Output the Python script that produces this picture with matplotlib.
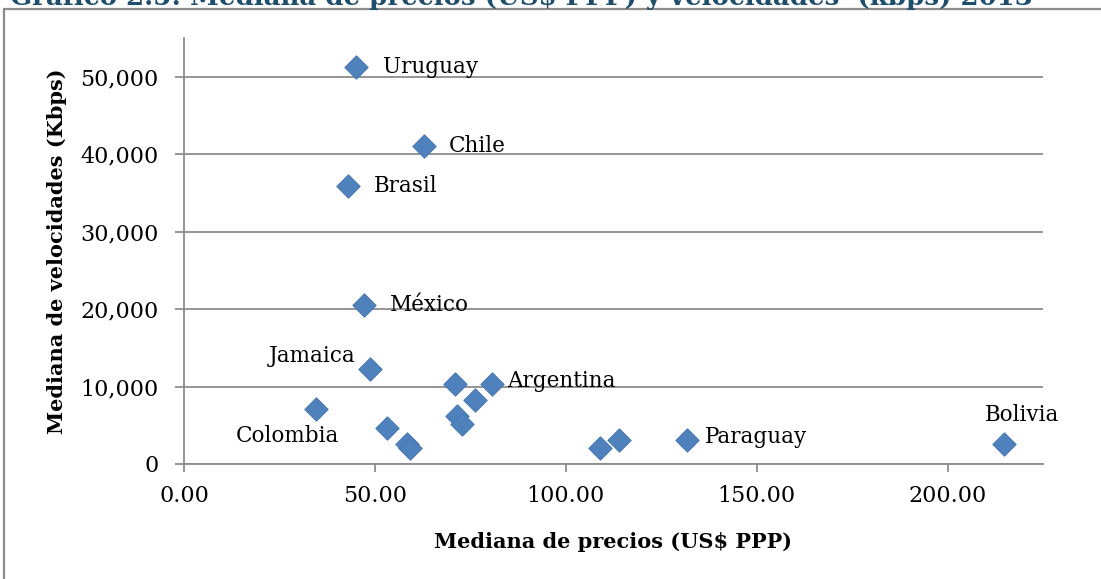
import matplotlib
matplotlib.use("Agg")
import matplotlib.pyplot as plt
from matplotlib.patches import Rectangle
from matplotlib.ticker import FuncFormatter, MultipleLocator

# Data
precios = [45.0, 62.8, 42.9, 47.1, 48.7, 34.7, 70.9, 80.7, 76.2, 71.4, 72.7,
           53.2, 58.3, 59.2, 108.9, 114.0, 131.8, 214.7]
velocidades = [51200, 41000, 35900, 20500, 12300, 7100, 10300, 10300, 8200,
               6200, 5100, 4700, 2600, 2050, 2050, 3100, 3100, 2600]
etiquetas = ["Uruguay", "Chile", "Brasil", "México", "Jamaica", "Colombia", "",
             "Argentina", "", "", "", "", "", "", "", "", "Paraguay", "Bolivia"]

titulo = "Gráfico 2.5: Mediana de precios (US$ PPP) y velocidades  (kbps) 2013"
xlabel = "Mediana de precios (US$ PPP)"
ylabel = "Mediana de velocidades (Kbps)"

serif = ["DejaVu Serif"]
W, H = 1101, 579
fig = plt.figure(figsize=(W / 100, H / 100), dpi=100)

# outer chart frame (cut off at right and bottom)
fig.patches.append(Rectangle((4 / W, -0.1), 1.2, 1 - 9 / H + 0.1, transform=fig.transFigure,
                             fill=False, edgecolor="#8c8c8c", linewidth=1.6, clip_on=False))

# title, partly cut off at the top edge as in the reference
fig.text(10 / W, 1 - 5 / H, titulo, fontsize=18.7, fontweight="bold", color="#1f4e6b",
         family=serif, va="baseline", ha="left")

ax = fig.add_axes([184 / W, 1 - 464 / H, (1043 - 184) / W, (464 - 38) / H])
ax.set_xlim(0, 225)
ax.set_ylim(0, 55000)
ax.xaxis.set_major_locator(MultipleLocator(50))
ax.yaxis.set_major_locator(MultipleLocator(10000))
ax.xaxis.set_major_formatter(FuncFormatter(lambda v, p: f"{v:.2f}"))
ax.yaxis.set_major_formatter(FuncFormatter(lambda v, p: f"{v:,.0f}"))

grid_c = "#8c8c8c"
ax.yaxis.grid(True, color=grid_c, linewidth=1.3)
ax.set_axisbelow(True)
for s in ["top", "right"]:
    ax.spines[s].set_visible(False)
for s in ["left", "bottom"]:
    ax.spines[s].set_color(grid_c)
    ax.spines[s].set_linewidth(1.3)
ax.tick_params(axis="x", direction="out", length=6, width=1.3, color=grid_c, pad=9,
               labelsize=16)
ax.tick_params(axis="y", direction="out", length=6.5, width=1.3, color=grid_c, pad=12,
               labelsize=16)
for lab in ax.get_xticklabels() + ax.get_yticklabels():
    lab.set_family(serif)

ax.scatter(precios, velocidades, marker="D", s=140, color="#4f81bd",
           edgecolors="#4a7ab3", linewidths=0.8, zorder=3, clip_on=False)

offsets = {
    "Uruguay": (27, 0, "left", "center"),
    "Chile": (25, 0, "left", "center"),
    "Brasil": (26, 0, "left", "center"),
    "México": (26, 0, "left", "center"),
    "Argentina": (15, 3, "left", "center"),
    "Paraguay": (18, 3, "left", "center"),
    "Jamaica": (-14, 13, "right", "center"),
    "Colombia": (23, -27, "right", "center"),
    "Bolivia": (18, 29, "center", "center"),
}
for x, y, t in zip(precios, velocidades, etiquetas):
    if not t:
        continue
    dx, dy, ha, va = offsets[t]
    ax.annotate(t, (x, y), xytext=(dx, dy), textcoords="offset pixels",
                ha=ha, va=va, fontsize=15.5, family=serif, color="black")

ax.set_xlabel(xlabel, fontsize=15, fontweight="bold", family=serif, labelpad=18)
ax.set_ylabel(ylabel, fontsize=15, fontweight="bold", family=serif, labelpad=9)

fig.savefig("out.png", dpi=100)
